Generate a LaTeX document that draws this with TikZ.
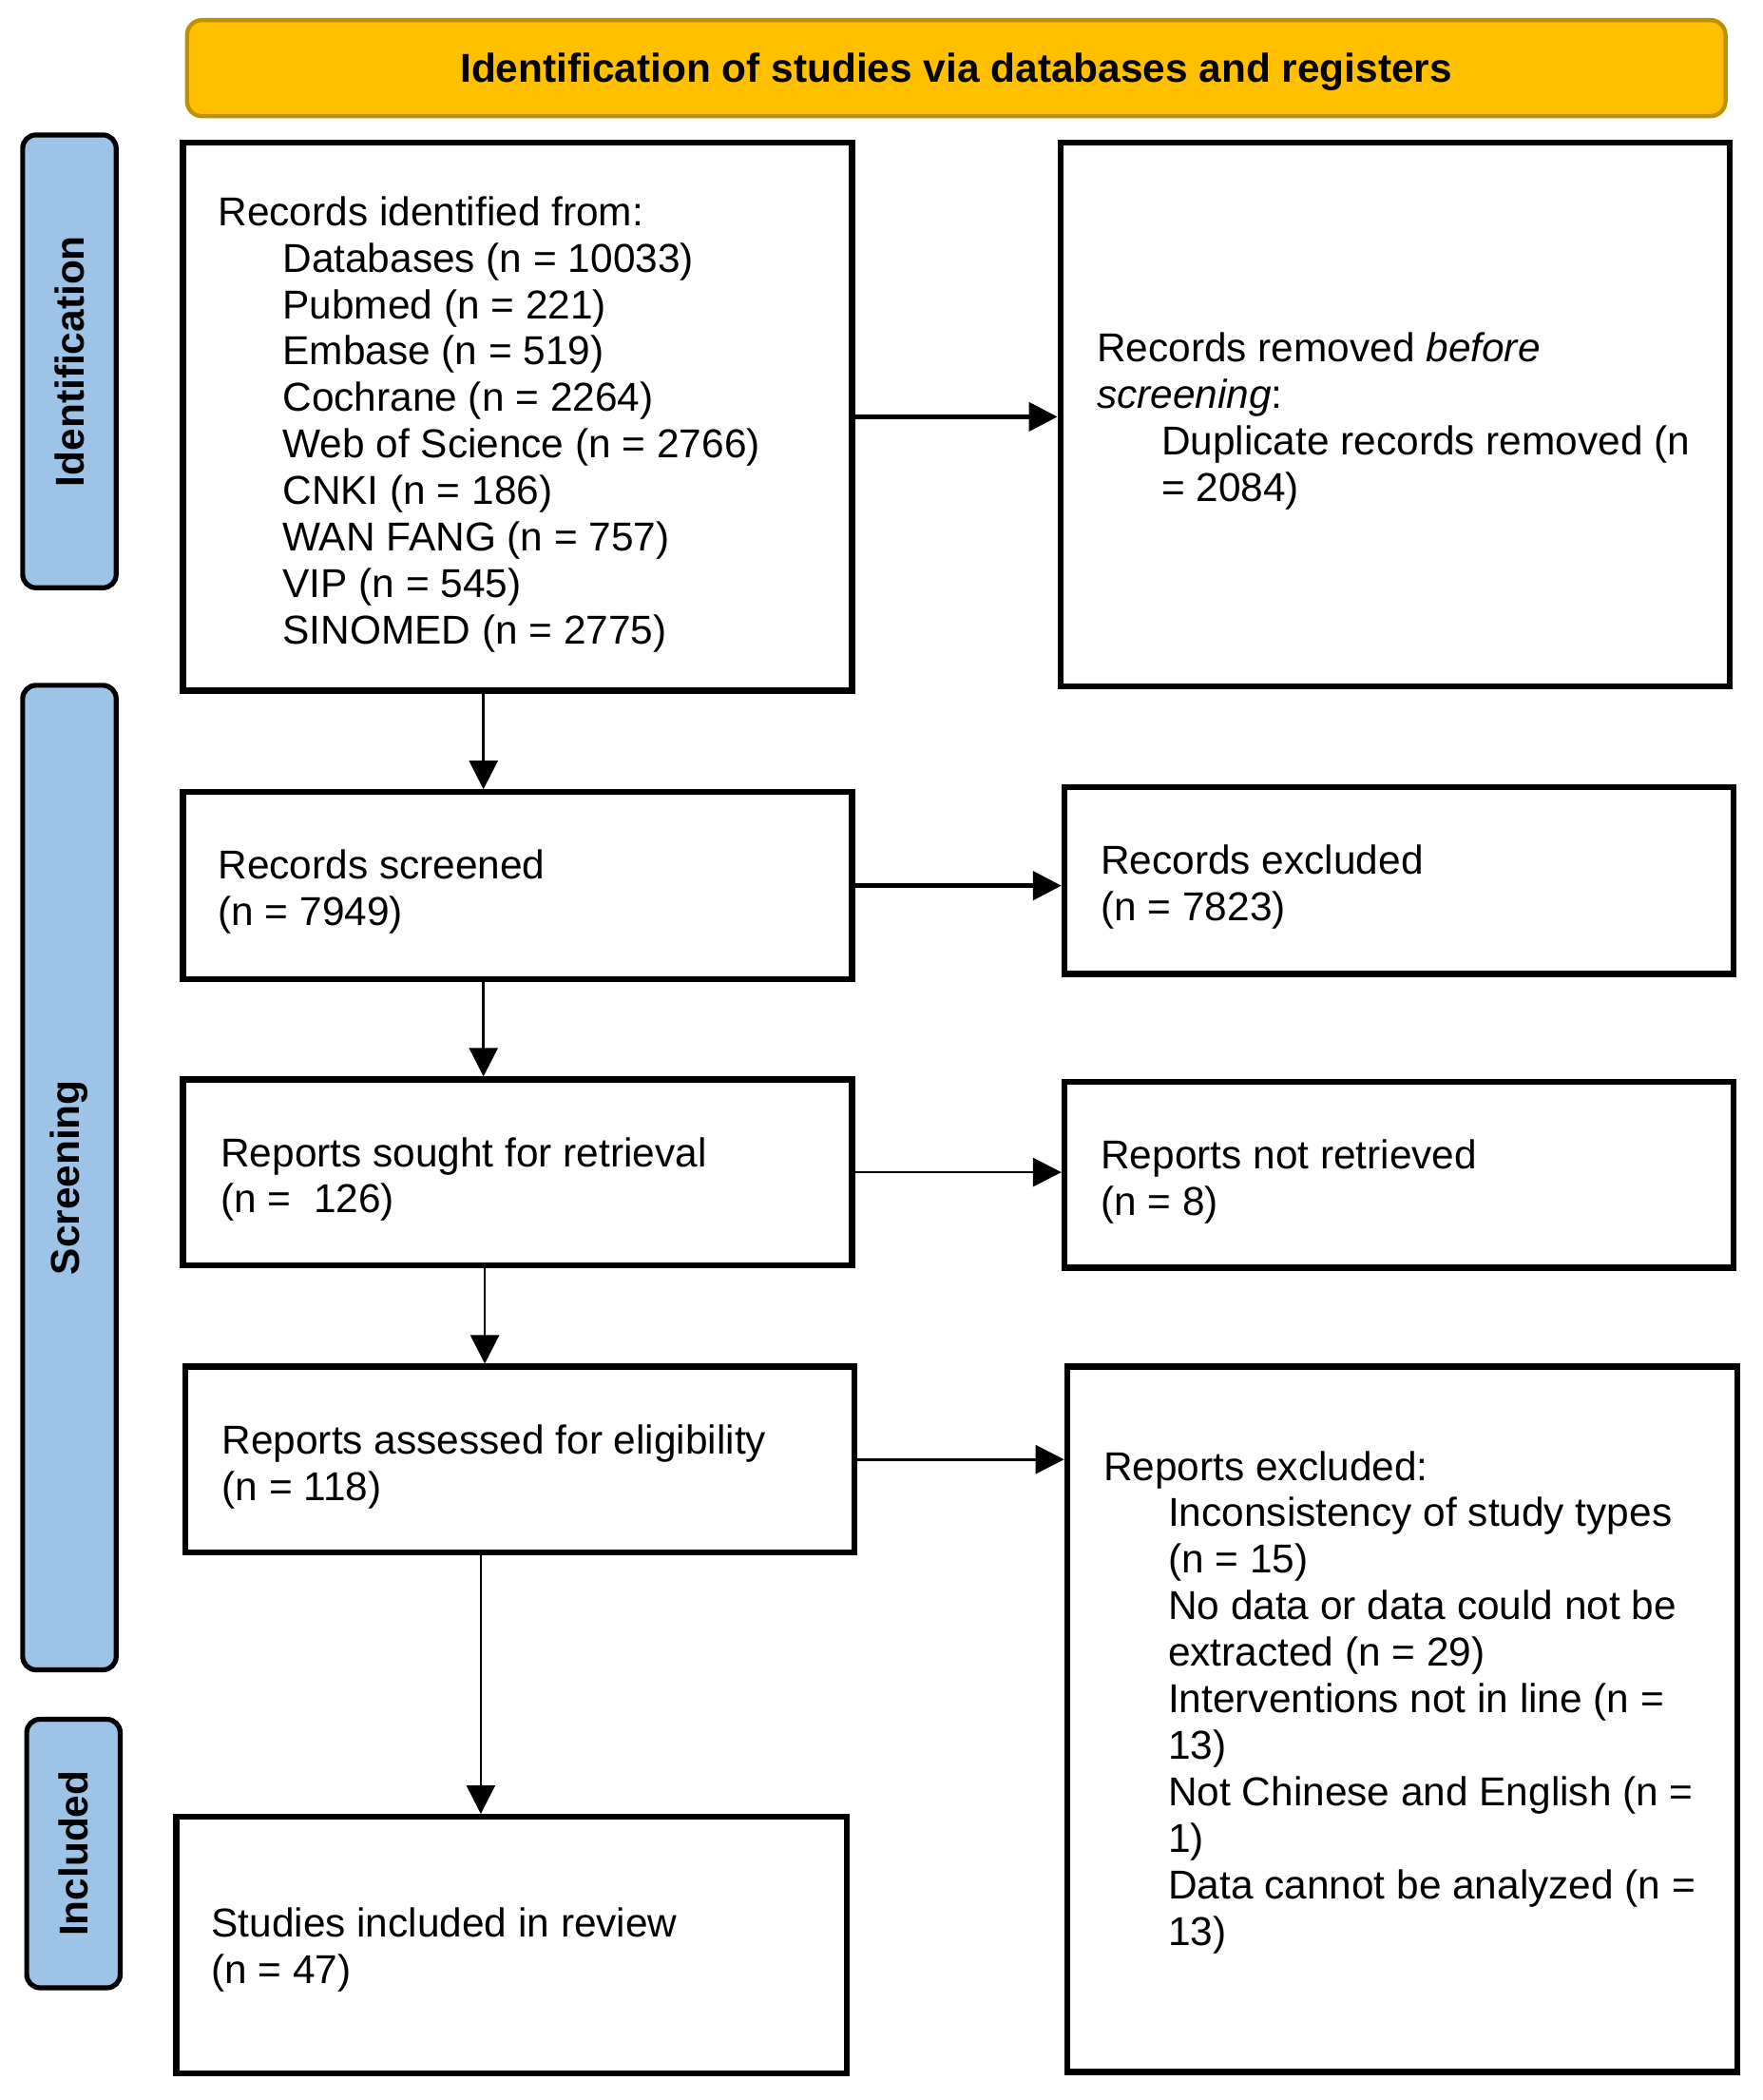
\documentclass[tikz,border=0pt]{standalone}
\usepackage{fontspec}
\setmainfont{Liberation Sans}
\usetikzlibrary{arrows.meta,fit}
\definecolor{phaseblue}{HTML}{9DC3E6}
\definecolor{bannergold}{HTML}{FFC000}
\definecolor{bannerline}{HTML}{BF9000}
\begin{document}
\begin{tikzpicture}[x=0.70265pt,y=-0.70265pt,
  box/.style={draw=black, line width=3.1pt, fill=white, inner sep=0pt},
  phase/.style={draw=black, line width=2.6pt, fill=phaseblue, rounded corners=7pt, inner sep=0pt},
  banner/.style={draw=bannerline, line width=2.2pt, fill=bannergold, rounded corners=8pt, inner sep=0pt},
  txt/.style={align=left, inner sep=0pt, anchor=base west, font=\fontsize{21.2}{24.45}\selectfont},
  btxt/.style={inner sep=0pt, font=\bfseries\fontsize{21.2}{24.45}\selectfont},
  arrthick/.style={line width=2.2pt, -{Triangle[length=15pt,width=15pt]}},
  arrthin/.style={line width=1.3pt, -{Triangle[length=15pt,width=15pt]}}]
\useasboundingbox (0,0) rectangle (1320,1572);
\def\ind{\hspace*{34pt}}
% banner
\node[banner, fit={(140,15) (1292,87)}] (hdr) {};
\node[btxt] (hdrt) at ([yshift=-2pt]hdr.center) {Identification of studies via databases and registers};
% phase labels
\node[phase, fit={(17,101) (87,440)}] (pid) {};
\node[btxt, rotate=90] (pidt) at (pid.center) {Identification};
\node[phase, fit={(17,513) (87,1250)}] (psc) {};
\node[btxt, rotate=90] (psct) at (psc.center) {Screening};
\node[phase, fit={(20,1287) (90,1488)}] (pin) {};
\node[btxt, rotate=90] (pint) at (pin.center) {Included};
% boxes
\node[box, fit={(137,107) (638,517)}] (b1) {};
\node[box, fit={(794,107) (1295,514)}] (b2) {};
\node[box, fit={(137,593) (638,733)}] (b3) {};
\node[box, fit={(797,589) (1298,729)}] (b4) {};
\node[box, fit={(137,808) (638,947)}] (b5) {};
\node[box, fit={(797,810) (1298,949)}] (b6) {};
\node[box, fit={(139,1023) (640,1162)}] (b7) {};
\node[box, fit={(799,1023) (1301,1551)}] (b8) {};
\node[box, fit={(132,1360) (634,1552)}] (b9) {};
% texts (anchored at the baseline of their last line)
\node[txt] (b1t) at (163,482) {Records identified from:\\
\ind Databases (n = 10033)\\
\ind Pubmed (n = 221)\\
\ind Embase (n = 519)\\
\ind Cochrane (n = 2264)\\
\ind Web of Science (n = 2766)\\
\ind CNKI (n = 186)\\
\ind WAN FANG (n = 757)\\
\ind VIP (n = 545)\\
\ind SINOMED (n = 2775)};
\node[txt] (b2t) at (821,375.5) {Records removed \textit{before}\\
\textit{screening}:\\
\ind Duplicate records removed (n\\
\ind = 2084)};
\node[txt] (b3t) at (163,693) {Records screened\\(n = 7949)};
\node[txt] (b4t) at (824,689) {Records excluded\\(n = 7823)};
\node[txt] (b5t) at (165,908) {Reports sought for retrieval\\(n = \ 126)};
\node[txt] (b6t) at (824,910) {Reports not retrieved\\(n = 8)};
\node[txt] (b7t) at (166,1123) {Reports assessed for eligibility\\(n = 118)};
\node[txt] (b8t) at (826,1456) {Reports excluded:\\
\ind Inconsistency of study types\\
\ind (n = 15)\\
\ind No data or data could not be\\
\ind extracted (n = 29)\\
\ind Interventions not in line (n =\\
\ind 13)\\
\ind Not Chinese and English (n =\\
\ind 1)\\
\ind Data cannot be analyzed (n =\\
\ind 13)};
\node[txt] (b9t) at (158,1485) {Studies included in review\\(n = 47)};
% connectors
\coordinate (vxa) at (362,0);
\coordinate (vxb) at (363,0);
\coordinate (vxc) at (360,0);
\draw[arrthick] (b1.east) -- (b1.east -| b2.west);
\draw[arrthick] (b3.east) -- (b3.east -| b4.west);
\draw[arrthin] (b5.east) -- (b5.east -| b6.west);
\draw[arrthin] (b7.east) -- (b7.east -| b8.west);
\draw[arrthin] (b1.south -| vxa) -- (b3.north -| vxa);
\draw[arrthin] (b3.south -| vxa) -- (b5.north -| vxa);
\draw[arrthin] (b5.south -| vxb) -- (b7.north -| vxb);
\draw[arrthin] (b7.south -| vxc) -- (b9.north -| vxc);
\end{tikzpicture}
\end{document}
